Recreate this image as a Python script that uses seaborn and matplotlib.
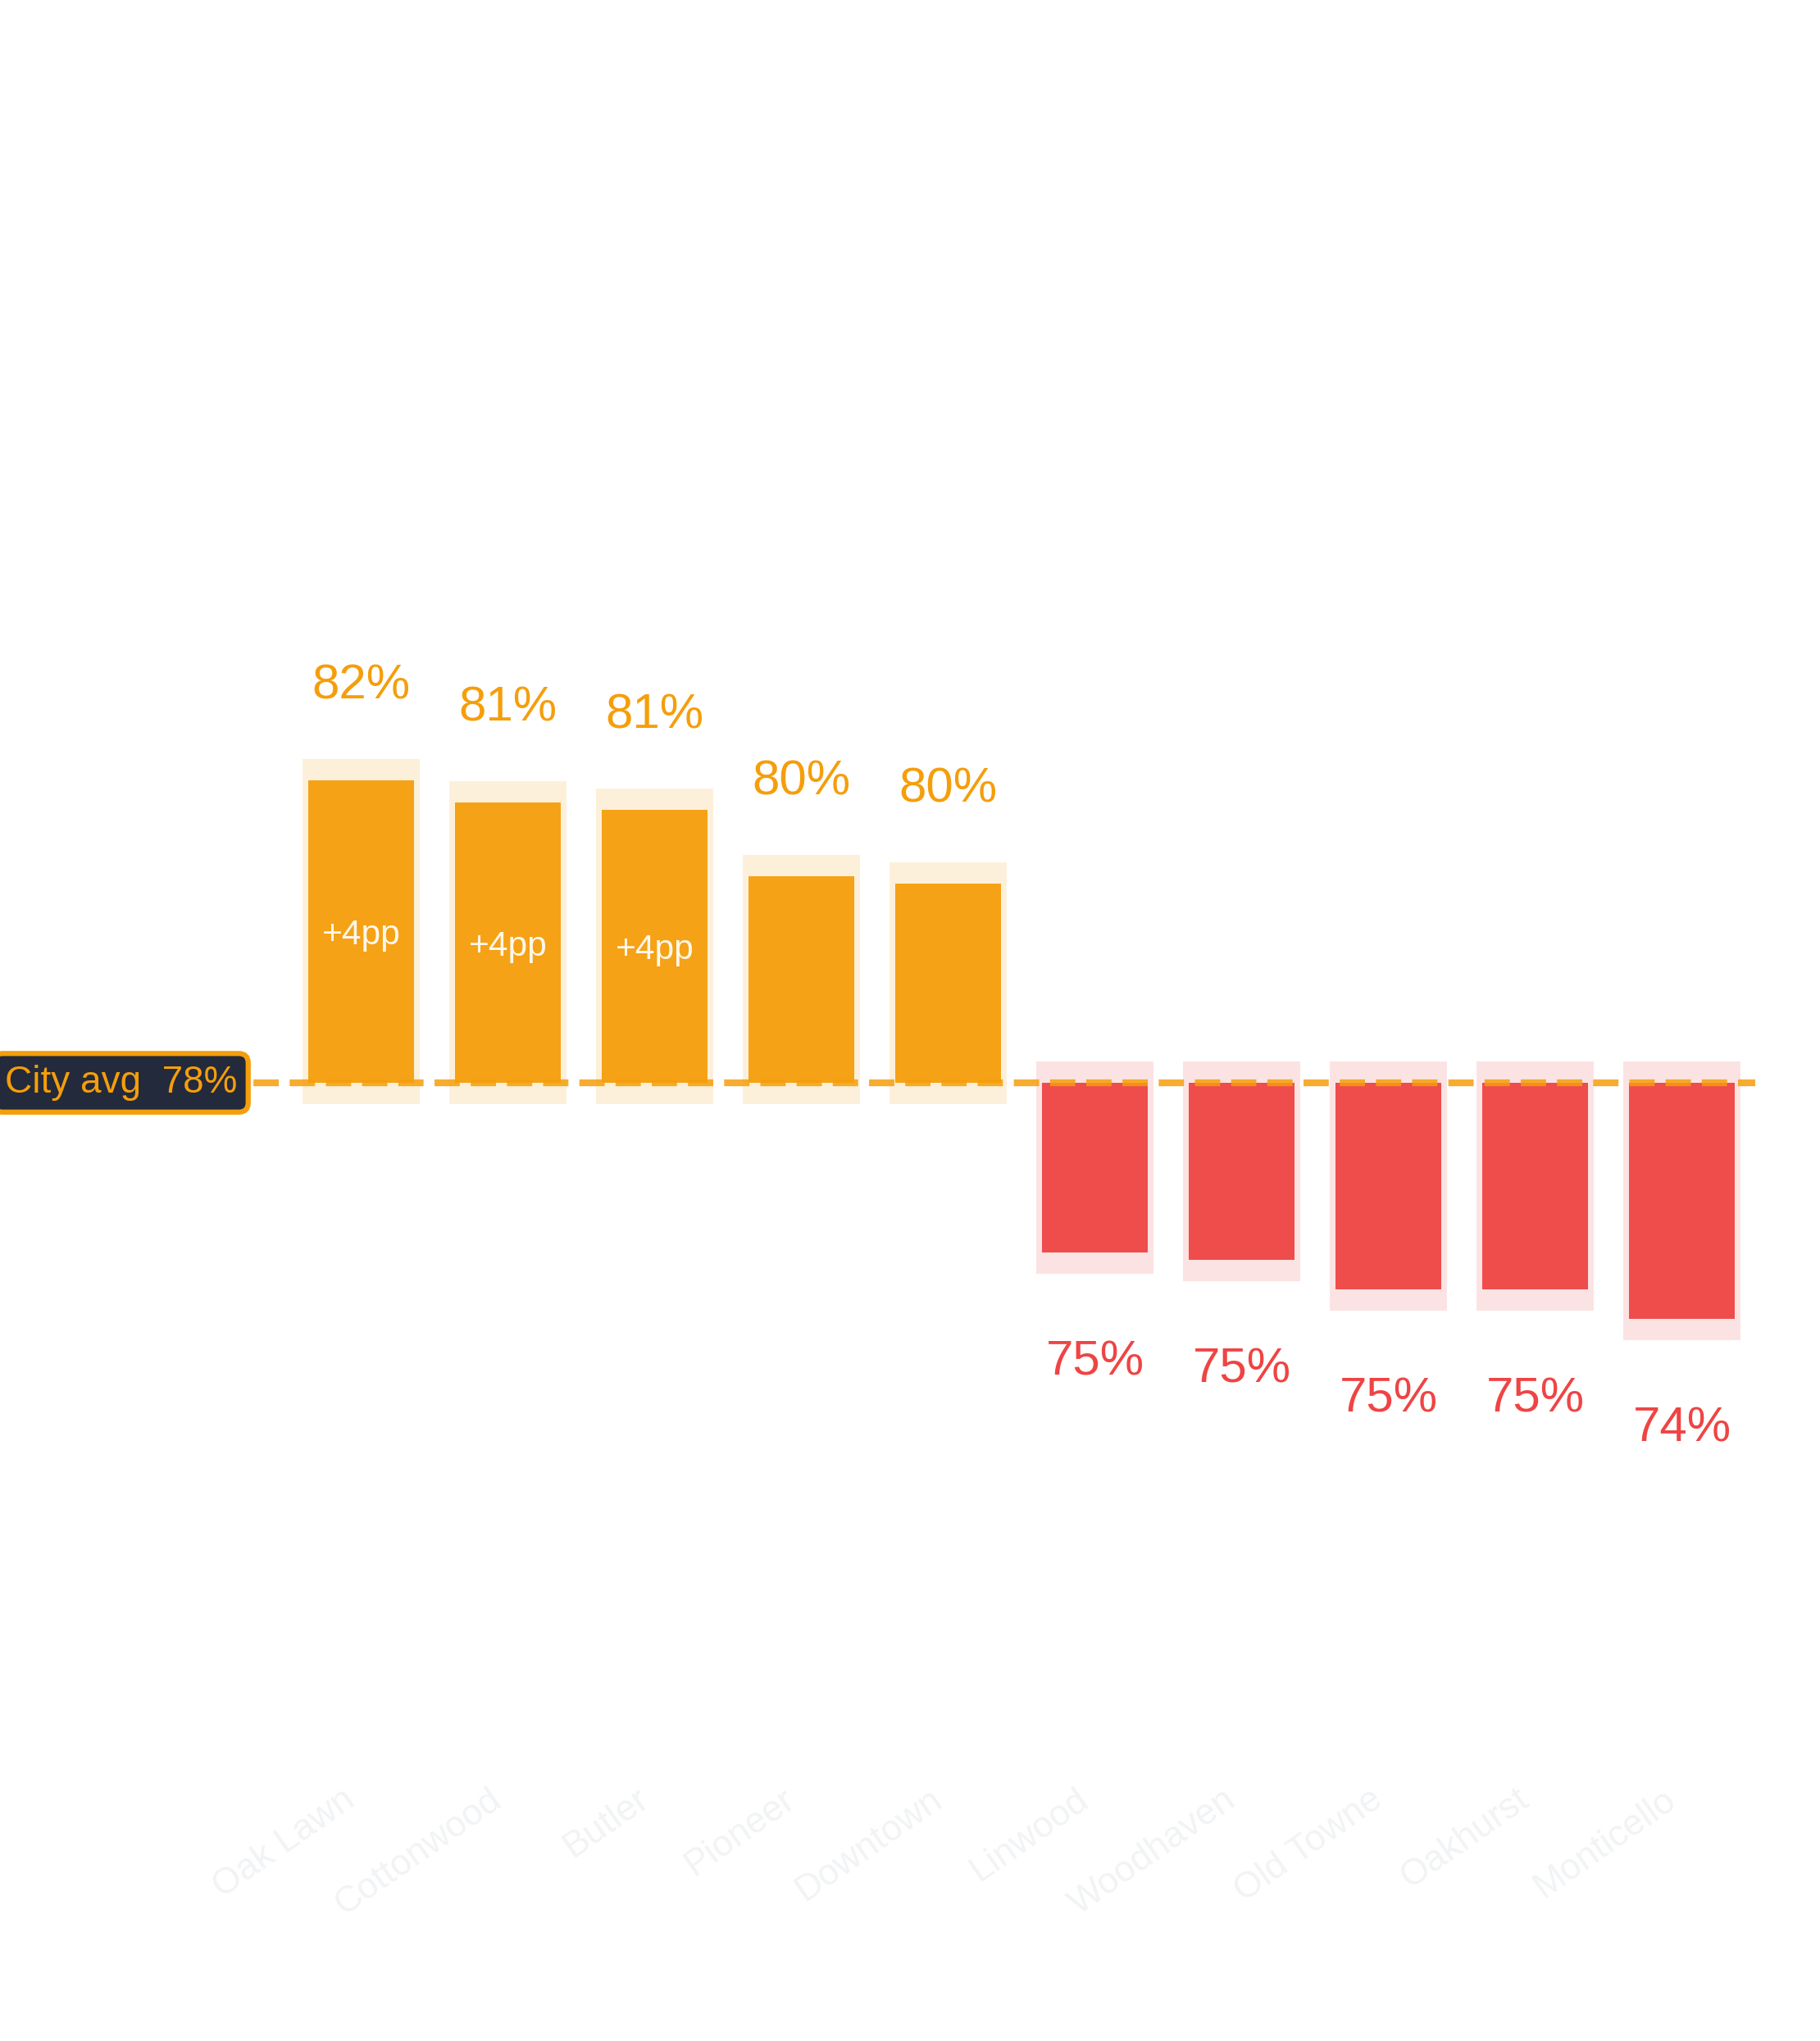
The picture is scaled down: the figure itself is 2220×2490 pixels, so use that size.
import numpy as np
import pandas as pd
import matplotlib
matplotlib.use("Agg")
import matplotlib.pyplot as plt
import seaborn as sns

# neighbourhood values (%)
neighborhoods = ["Oak Lawn", "Cottonwood", "Butler", "Pioneer", "Downtown",
                 "Linwood", "Woodhaven", "Old Towne", "Oakhurst", "Monticello"]
rates = [81.7, 81.4, 81.3, 80.4, 80.3, 75.3, 75.2, 74.8, 74.8, 74.4]
city_avg = 77.6

ORANGE = "#F59E0B"
RED = "#EF4444"
PAD = 0.29  # pp of halo around each bar

sns.set_style("white")
plt.rcParams["font.family"] = ["Liberation Sans", "DejaVu Sans"]

df = pd.DataFrame({"name": neighborhoods, "rate": rates})
df["diff"] = df["rate"] - city_avg
df["group"] = np.where(df["diff"] >= 0, "above", "below")
pal = {"above": ORANGE, "below": RED}

fig = plt.figure(figsize=(7.4, 8.3), dpi=300)
ax = fig.add_axes([351 / 2220, (2490 - 2160) / 2490, 1790 / 2220, 2060 / 2490])

# pale halo behind each bar
up = df[df["group"] == "above"]
dn = df[df["group"] == "below"]
sns.barplot(data=up, x="name", y=up["diff"] + 2 * PAD, order=neighborhoods,
            color=ORANGE, saturation=1, alpha=0.15, width=0.8,
            bottom=city_avg - PAD, linewidth=0, ax=ax)
sns.barplot(data=dn, x="name", y=dn["diff"] - 2 * PAD, order=neighborhoods,
            color=RED, saturation=1, alpha=0.15, width=0.8,
            bottom=city_avg + PAD, linewidth=0, ax=ax)

# main bars, diverging from the city average
sns.barplot(data=df, x="name", y="diff", hue="group", palette=pal,
            order=neighborhoods, dodge=False, width=0.72, bottom=city_avg,
            saturation=1, alpha=0.95, linewidth=0, legend=False, ax=ax)

ax.axhline(city_avg, xmin=-0.196, xmax=1.0, color=ORANGE, lw=2, ls="--",
           alpha=0.85, zorder=5, clip_on=False)

for i, row in df.iterrows():
    col = pal[row["group"]]
    if row["diff"] >= 0:
        ax.annotate(f"{row['rate']:.0f}%", (i, row["rate"]), xytext=(0, 23.8),
                    textcoords="offset points", ha="center", va="baseline",
                    fontsize=14.4, color=col)
    else:
        ax.annotate(f"{row['rate']:.0f}%", (i, row["rate"]), xytext=(0, -35.8),
                    textcoords="offset points", ha="center", va="baseline",
                    fontsize=14.4, color=col)
    if row["diff"] > 3:
        ax.text(i, city_avg + row["diff"] / 2, f"+{row['diff']:.0f}pp",
                ha="center", va="center_baseline", fontsize=10.2,
                color="white", alpha=0.92, zorder=6)

ax.text(-0.5 - 62 / 179, city_avg, f"City avg  {city_avg:.0f}%",
        ha="right", va="center", fontsize=11, color=ORANGE, zorder=7,
        clip_on=False,
        bbox=dict(boxstyle="round,pad=0.3,rounding_size=0.25",
                  fc="#232A3B", ec=ORANGE, lw=1.5))

ax.set_xlim(-0.5, 9.5)
ax.set_ylim(city_avg - 9.322, city_avg + 13.567)
ax.set_xlabel("")
ax.set_ylabel("")
ax.set_yticks([])
ax.tick_params(axis="x", length=0, pad=3.5, colors="#F1F3F5", labelsize=10.7)
plt.setp(ax.get_xticklabels(), rotation=35, ha="right")
sns.despine(ax=ax, left=True, bottom=True)

fig.savefig("out.png", dpi=300)
